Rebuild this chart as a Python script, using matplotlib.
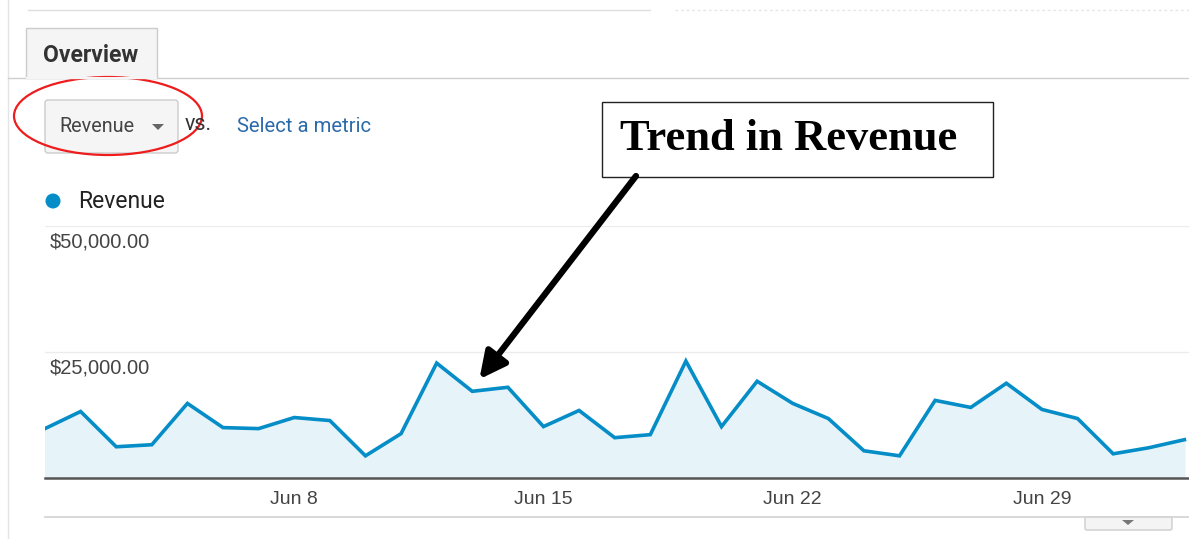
import numpy as np
import matplotlib
matplotlib.use("Agg")
import matplotlib.pyplot as plt
from matplotlib.patches import Rectangle, FancyBboxPatch, Ellipse, Polygon
from matplotlib.transforms import blended_transform_factory

# Daily revenue, Jun 1 .. Jul 3
days = ["Jun 1", "Jun 2", "Jun 3", "Jun 4", "Jun 5", "Jun 6", "Jun 7", "Jun 8",
        "Jun 9", "Jun 10", "Jun 11", "Jun 12", "Jun 13", "Jun 14", "Jun 15", "Jun 16",
        "Jun 17", "Jun 18", "Jun 19", "Jun 20", "Jun 21", "Jun 22", "Jun 23", "Jun 24",
        "Jun 25", "Jun 26", "Jun 27", "Jun 28", "Jun 29", "Jun 30", "Jul 1", "Jul 2", "Jul 3"]
revenue = [9800, 13200, 6200, 6600, 14800, 10000, 9800, 12000,
           11400, 4400, 8800, 22800, 17200, 18000, 10200, 13400,
           8000, 8600, 23200, 10200, 19200, 14800, 11800, 5400,
           4400, 15400, 14000, 18800, 13600, 11800, 4800, 6000, 7600]
tick_days = ["Jun 8", "Jun 15", "Jun 22", "Jun 29"]
y_ticks = [25000, 50000]
y_labels = ["$25,000.00", "$50,000.00"]

W, H = 1189, 539
LINE = "#058dc7"
FILL = "#e6f3f9"
UI = "Roboto"
CHART = "Liberation Sans"

fig = plt.figure(figsize=(W / 100, H / 100), dpi=100)
fig.patch.set_facecolor("white")

# chart area
ax = fig.add_axes([45 / W, (H - 478) / H, (W - 45) / W, (478 - 226) / H])
x = np.arange(len(revenue))
ax.fill_between(x, revenue, 0, color=FILL, zorder=1)
ax.plot(x, revenue, color=LINE, lw=2.6, zorder=3, solid_joinstyle="miter")
ax.set_xlim(0, 32.13)
ax.set_ylim(0, 50000)
for s in ["top", "left", "right"]:
    ax.spines[s].set_visible(False)
ax.spines["bottom"].set_color("#555555")
ax.spines["bottom"].set_linewidth(1.8)
ax.set_yticks(y_ticks)
ax.set_yticklabels([])
ax.tick_params(axis="y", length=0)
ax.grid(axis="y", color="#ececec", lw=1)
ax.set_xticks([days.index(d) for d in tick_days])
ax.set_xticklabels(tick_days, fontfamily=CHART, fontsize=14, color="#444444")
ax.tick_params(axis="x", length=0, pad=9)
trans = blended_transform_factory(ax.transAxes, ax.transData)
for v, lab in zip(y_ticks, y_labels):
    ax.text(0.004, v - 1200, lab, transform=trans, ha="left", va="top",
            fontfamily=CHART, fontsize=14.5, color="#444444", zorder=4)

# page overlay in pixel coordinates
ov = fig.add_axes([0, 0, 1, 1], zorder=5)
ov.set_xlim(0, W)
ov.set_ylim(H, 0)
ov.axis("off")
ov.patch.set_alpha(0)

ov.plot([8, 8], [0, H], color="#e4e4e4", lw=1)
ov.plot([28, 650], [10, 10], color="#e0e0e0", lw=1)
ov.plot([675, W], [10, 10], color="#e6e6e6", lw=1, ls=(0, (2, 2)))
ov.plot([8, W], [78, 78], color="#cfcfcf", lw=1)
ov.plot([45, W], [517, 517], color="#d6d6d6", lw=1.3)

# tab
ov.add_patch(Rectangle((26, 28), 131, 50, fc="#f5f5f5", ec="#cccccc", lw=1))
ov.plot([27, 156], [78, 78], color="#f5f5f5", lw=1.5)
ov.text(91, 55, "Overview", ha="center", va="center", fontfamily=UI,
        fontweight="bold", fontsize=16.5, color="#333333")

# metric dropdown
ov.add_patch(FancyBboxPatch((45, 100), 133, 53, boxstyle="round,pad=0,rounding_size=3",
                            fc="#f5f5f5", ec="#cccccc", lw=1))
ov.text(59, 127, "Revenue", ha="left", va="center", fontfamily=UI,
        fontsize=14.2, color="#444444")
ov.add_patch(Polygon([[152, 124], [164, 124], [158, 130]], closed=True, fc="#666666", ec="none"))
ov.text(185, 125, "vs.", ha="left", va="center", fontfamily=UI, fontsize=15.5, color="#333333")
ov.text(237, 127, "Select a metric", ha="left", va="center", fontfamily=UI,
        fontsize=14.6, color="#2b6aa8")
ov.add_patch(Ellipse((108, 116), 188, 78, fc="none", ec="#ee1c1c", lw=1.6))

# legend
ov.add_patch(Ellipse((53, 201), 15, 15, fc=LINE, ec="none"))
ov.text(78, 202, "Revenue", ha="left", va="center", fontfamily=UI, fontsize=16.5, color="#222222")

# scroll button bottom right
ov.add_patch(FancyBboxPatch((1085, 517), 87, 13, boxstyle="round,pad=0,rounding_size=2",
                            fc="#f4f4f4", ec="#cccccc", lw=1))
ov.add_patch(Polygon([[1122, 520], [1134, 520], [1128, 525]], closed=True, fc="#777777", ec="none"))

# callout box and arrow
ov.add_patch(Rectangle((602, 102), 391, 75, fc="white", ec="#222222", lw=1))
ov.text(620, 139, "Trend in Revenue", ha="left", va="center", fontfamily="Liberation Serif",
        fontweight="bold", fontsize=32, color="#000000")
i = days.index("Jun 13")
tip = ov.transData.inverted().transform(ax.transData.transform((i + 0.2, revenue[i] + 2400)))
ov.annotate("", xy=tuple(tip), xytext=(636, 176),
            arrowprops=dict(arrowstyle="-|>,head_length=1.6,head_width=0.8",
                            color="black", lw=4.5, shrinkA=0, shrinkB=0))

fig.savefig("out.png", dpi=100)
